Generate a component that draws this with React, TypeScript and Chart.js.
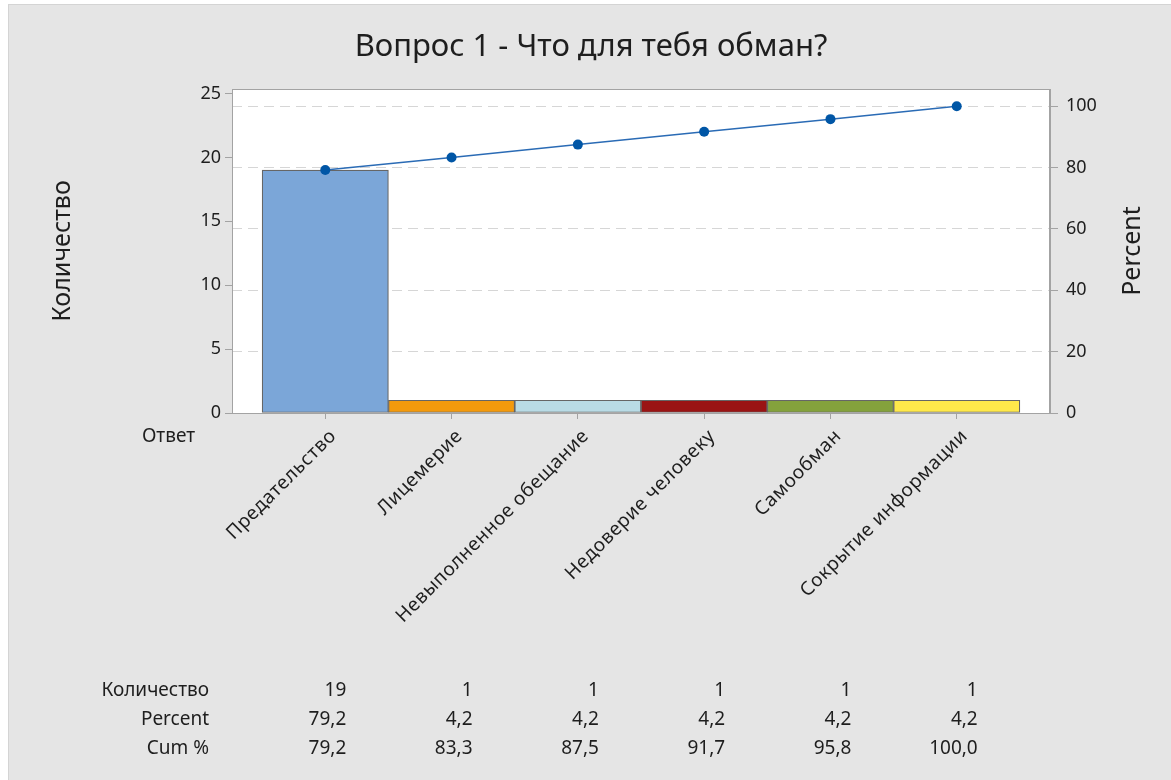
import React, { useEffect, useRef } from 'react';
import { Chart, registerables } from 'chart.js';

Chart.register(...registerables);

const TITLE = 'Вопрос 1 - Что для тебя обман?';
const Y_TITLE = 'Количество';
const Y2_TITLE = 'Percent';
const X_TITLE = 'Ответ';
const ROW_LABELS = ['Количество', 'Percent', 'Cum %'];

const categories = [
  'Предательство',
  'Лицемерие',
  'Невыполненное обещание',
  'Недоверие человеку',
  'Самообман',
  'Сокрытие информации',
];
const counts = [19, 1, 1, 1, 1, 1];
const percents = [79.2, 4.2, 4.2, 4.2, 4.2, 4.2];
const cumPercents = [79.2, 83.3, 87.5, 91.7, 95.8, 100.0];
const barColors = ['#7ba6d8', '#f39a0c', '#b9dbe5', '#9a1414', '#84a23c', '#ffe94a'];

const TOTAL = 24;
const COUNT_MAX = 25.35;
const PCT_MAX = (COUNT_MAX / TOTAL) * 100;

const FONT = '"Noto Sans", "Open Sans", sans-serif';
const TEXT = '#1e1e1e';
const AXIS = '#a3a3a3';

const W = 1171;
const H = 780;

const fmt = (v: number) => v.toFixed(1).replace('.', ',');

const decorPlugin = {
  id: 'decor',
  afterUpdate(chart: any) {
    const xs = chart.scales.x;
    if (xs && !xs.__wrapped) {
      const orig = xs.drawLabels;
      xs.drawLabels = function (area: any) {
        const c = this.ctx;
        const prev = c.letterSpacing;
        c.letterSpacing = '0.6px';
        orig.call(this, area);
        c.letterSpacing = prev || '0px';
      };
      xs.__wrapped = true;
    }
  },
  beforeDraw(chart: any) {
    const { ctx, chartArea } = chart;
    ctx.save();
    ctx.fillStyle = '#ffffff';
    ctx.fillRect(0, 0, W, H);
    ctx.fillStyle = '#e5e5e5';
    ctx.fillRect(8, 4, W - 8, H - 4);
    ctx.fillStyle = '#d4d4d4';
    ctx.fillRect(8, 4, W - 8, 1);
    ctx.fillRect(8, 4, 1, H - 4);
    ctx.fillStyle = '#ffffff';
    ctx.fillRect(chartArea.left, chartArea.top, chartArea.right - chartArea.left, chartArea.bottom - chartArea.top);
    ctx.restore();
  },
  afterDraw(chart: any) {
    const { ctx, chartArea } = chart;
    const xs = chart.scales.x;
    ctx.save();
    // plot frame
    ctx.strokeStyle = AXIS;
    ctx.lineWidth = 1;
    ctx.strokeRect(chartArea.left + 0.5, chartArea.top + 0.5, chartArea.right - chartArea.left - 1, chartArea.bottom - chartArea.top);

    ctx.fillStyle = TEXT;
    // title
    ctx.font = `31px ${FONT}`;
    ctx.textAlign = 'center';
    ctx.textBaseline = 'middle';
    ctx.fillText(TITLE, 591, 47);

    // y titles
    const midY = (chartArea.top + chartArea.bottom) / 2;
    ctx.font = `25px ${FONT}`;
    ctx.save();
    ctx.translate(63, midY);
    ctx.rotate(-Math.PI / 2);
    ctx.fillText(Y_TITLE, 0, 0);
    ctx.restore();
    ctx.save();
    ctx.translate(1133, midY);
    ctx.rotate(-Math.PI / 2);
    ctx.fillText(Y2_TITLE, 0, 0);
    ctx.restore();

    // x title
    ctx.font = `19px ${FONT}`;
    ctx.textAlign = 'right';
    ctx.fillText(X_TITLE, 195, 437);

    // table
    const rows = [
      counts.map((v) => String(v)),
      percents.map(fmt),
      cumPercents.map(fmt),
    ];
    const rowY = [691, 720, 749];
    rows.forEach((row, r) => {
      ctx.textAlign = 'right';
      ctx.fillText(ROW_LABELS[r], 209, rowY[r]);
      row.forEach((txt, i) => {
        const px = xs.getPixelForValue(i) + 21;
        ctx.fillText(txt, px, rowY[r]);
      });
    });
    ctx.restore();
  },
};

export default function App() {
  const ref = useRef<HTMLCanvasElement | null>(null);

  useEffect(() => {
    if (!ref.current) return;
    const chart = new Chart(ref.current, {
      type: 'bar',
      data: {
        datasets: [
          {
            type: 'line',
            label: 'Cum %',
            data: cumPercents.map((v, i) => ({ x: i, y: v })),
            yAxisID: 'y1',
            xAxisID: 'x',
            borderColor: '#2a6bb5',
            borderWidth: 1.5,
            pointRadius: 5,
            pointBackgroundColor: '#0056a6',
            pointBorderColor: '#0056a6',
            pointBorderWidth: 0,
            tension: 0,
            order: 1,
          } as any,
          {
            type: 'bar',
            label: 'Количество',
            data: counts.map((v, i) => ({ x: i, y: v })),
            yAxisID: 'y',
            xAxisID: 'x',
            backgroundColor: barColors,
            borderColor: '#666666',
            borderWidth: 1.2,
            borderSkipped: false,
            barPercentage: 1,
            categoryPercentage: 1,
            order: 2,
          } as any,
        ],
      },
      options: {
        responsive: false,
        animation: false,
        events: [],
        layout: { padding: { top: 89, left: 0, right: 0, bottom: 0 } },
        plugins: {
          legend: { display: false },
          tooltip: { enabled: false },
          title: { display: false },
        },
        scales: {
          x: {
            type: 'linear',
            position: 'bottom',
            offset: false,
            min: -0.7385,
            max: categories.length - 1 + 0.7385,
            afterBuildTicks: (scale: any) => {
              scale.ticks = categories.map((_, i) => ({ value: i }));
            },
            afterFit: (scale: any) => {
              scale.height = H - 413;
            },
            grid: {
              display: true,
              offset: false,
              drawOnChartArea: false,
              drawTicks: true,
              tickLength: 6,
              tickColor: AXIS,
            },
            border: { display: true, color: AXIS },
            ticks: {
              autoSkip: false,
              minRotation: 45,
              maxRotation: 45,
              padding: 6,
              labelOffset: 8,
              color: TEXT,
              font: { family: FONT, size: 19 },
              callback: (value: any) => categories[Math.round(Number(value))] ?? '',
            },
          },
          y: {
            type: 'linear',
            position: 'left',
            min: 0,
            max: COUNT_MAX,
            afterFit: (scale: any) => {
              scale.width = 232;
            },
            grid: {
              display: true,
              drawOnChartArea: false,
              drawTicks: true,
              tickLength: 7,
              tickColor: AXIS,
            },
            border: { display: true, color: AXIS },
            ticks: {
              stepSize: 5,
              includeBounds: false,
              padding: 4,
              color: TEXT,
              font: { family: FONT, size: 18 },
            },
          },
          y1: {
            type: 'linear',
            position: 'right',
            min: 0,
            max: PCT_MAX,
            afterFit: (scale: any) => {
              scale.width = W - 1050;
            },
            grid: {
              display: true,
              drawOnChartArea: true,
              drawTicks: true,
              tickLength: 8,
              tickColor: AXIS,
              color: '#d6d6d6',
              lineWidth: 1,
            },
            border: { display: true, color: AXIS, dash: [10, 6] },
            ticks: {
              stepSize: 20,
              includeBounds: false,
              padding: 8,
              color: TEXT,
              font: { family: FONT, size: 18 },
            },
          },
        },
      } as any,
      plugins: [decorPlugin],
    });
    return () => chart.destroy();
  }, []);

  return (
    <div style={{ position: 'fixed', left: 0, top: 0, width: W, height: H, background: '#fff' }}>
      <canvas ref={ref} width={W} height={H} style={{ display: 'block', width: W, height: H }} />
    </div>
  );
}
